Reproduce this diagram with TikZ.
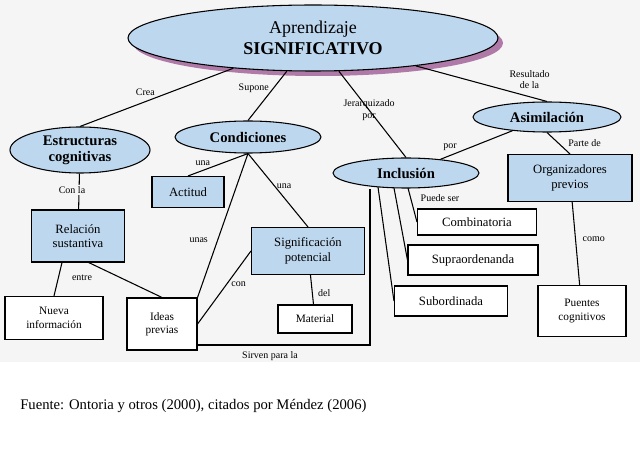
\documentclass[tikz,border=0pt]{standalone}
\usepackage{fontspec}
\setmainfont{Liberation Serif}
\usetikzlibrary{shapes.geometric}
\definecolor{lb}{HTML}{BDD7EE}
\definecolor{shd}{HTML}{B07AA8}
\begin{document}
\begin{tikzpicture}[x=0.75pt,y=-0.75pt,
 sz/.style 2 args={minimum width=0.75pt*#1,minimum height=0.75pt*#2},
 ell/.style={ellipse,draw,thick,fill=lb,inner sep=0pt,font=\fontsize{11}{12}\selectfont\bfseries,align=center},
 bbox/.style={draw,thick,fill=lb,inner sep=0pt,font=\fontsize{9.5}{11}\selectfont,align=center},
 wbox/.style={draw,thick,fill=white,inner sep=0pt,font=\fontsize{8.5}{10}\selectfont,align=center},
 lab/.style={font=\fontsize{7.5}{8.5}\selectfont,align=center,inner sep=1pt},
 con/.style={thick}]
\useasboundingbox (0,0) rectangle (640,463);
\fill[white] (0,0) rectangle (640,463);
\fill[black!4] (0,0) rectangle (640,362);
% main
\fill[shd] (318,43) ellipse (185 and 33);
\node[ell,sz={370}{66},font=\fontsize{13.5}{15.5}\selectfont] (main) at (313,38) {Aprendizaje\\\textbf{SIGNIFICATIVO}};
\node[ell,sz={140}{46}] (est) at (80,150) {Estructuras\\cognitivas};
\node[ell,sz={146}{32}] (cond) at (248,137) {Condiciones};
\node[ell,sz={146}{30}] (inc) at (406,173) {Inclusión};
\node[ell,sz={148}{30}] (asi) at (547,117) {Asimilación};
\node[bbox,sz={72}{31}] (act) at (188,192) {Actitud};
\node[bbox,sz={93}{52}] (rel) at (78,236) {Relación\\sustantiva};
\node[bbox,sz={113}{47}] (sig) at (308,251) {Significación\\potencial};
\node[bbox,sz={124}{47}] (org) at (570,178) {Organizadores\\previos};
\node[wbox,sz={119}{26},font=\fontsize{9.5}{11}\selectfont] (comb) at (477,222) {Combinatoria};
\node[wbox,sz={130}{30},font=\fontsize{9.5}{11}\selectfont] (sup) at (473,260) {Supraordenanda};
\node[wbox,sz={113}{30},font=\fontsize{9.5}{11}\selectfont] (sub) at (451,301) {Subordinada};
\node[wbox,sz={98}{43}] (nue) at (54,318) {Nueva\\información};
\node[wbox,sz={70}{52}] (ide) at (162,324) {Ideas\\previas};
\node[wbox,sz={74}{28}] (mat) at (315,319) {Material};
\node[wbox,sz={88}{51}] (pue) at (582,311) {Puentes\\cognitivos};
\coordinate (c1) at (370,345);
\coordinate (c0) at (197,345);
% connectors
\draw[con] (main) -- (est.north) node[lab,pos=0.5,above left] {Crea};
\draw[con] (main) -- (cond.north) node[lab,pos=0.35,left=2pt] {Supone};
\draw[con] (main) -- (inc.north) node[lab,pos=0.45] {Jerarquizado\\por};
\draw[con] (main) -- (asi.north) node[lab,pos=0.7,above right] {Resultado\\de la};
\draw[con] (asi) -- (inc) node[lab,pos=0.75,above left] {por};
\draw[con] (asi.south) -- (org.north) node[lab,pos=0.5,right=6pt] {Parte de};
\draw[con] (org) -- (pue) node[lab,pos=0.45,right=4pt] {como};
\draw[con] (est) -- (rel) node[lab,pos=0.45,left=-6pt,fill=black!4] {Con la};
\draw[con] ([xshift=-12]rel.south) -- (nue.north);
\node[lab] at (82,278) {entre};
\draw[con] ([xshift=8]rel.south) -- (ide.north);
\draw[con] (cond.south) -- (act.north) node[lab,pos=0.6,above left] {una};
\draw[con] (cond.south) -- (sig.north) node[lab,pos=0.45,right] {una};
\draw[con] (cond.south) -- (ide.north east) node[lab,pos=0.6,left=6pt] {unas};
\draw[con] (sig.west) -- (ide.east) node[lab,pos=0.45,right=2pt] {con};
\draw[con] (sig) -- (mat) node[lab,pos=0.6,right=3pt] {del};
\draw[con] (c0) -- (c1) -- (inc.south -| c1);
\node[lab] at (270,356) {Sirven para la};
\draw[con] (378,187) -- (sub.west);
\draw[con] (394,188) -- (sup.west);
\draw[con] (408,188) -- (comb.west);
\node[lab] at (440,198) {Puede ser};
\node[anchor=west,inner sep=0pt,font=\fontsize{11}{13}\selectfont] (src) at (20,406) {Fuente: Ontoria y otros (2000), citados por Méndez (2006)};
\end{tikzpicture}
\end{document}
